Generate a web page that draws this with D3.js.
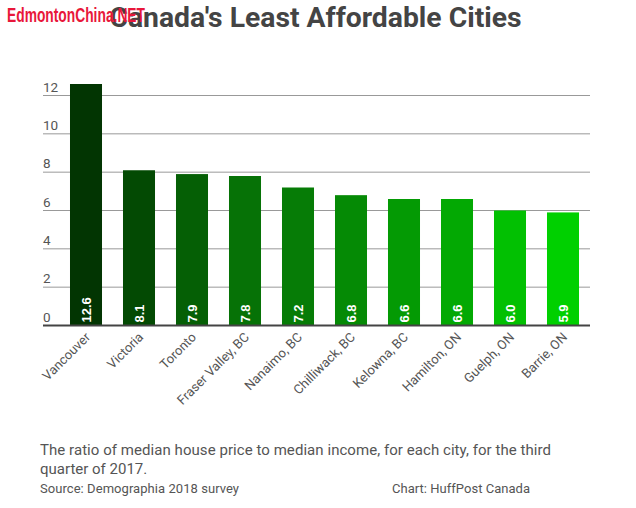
<!DOCTYPE html>
<html>
<head>
<meta charset="utf-8">
<script src="https://cdnjs.cloudflare.com/ajax/libs/d3/7.8.5/d3.min.js"></script>
<style>
  html, body { margin: 0; padding: 0; background: #fff; }
  svg { display: block; font-family: Roboto, sans-serif; }
</style>
</head>
<body>
<div id="chart"></div>
<script>
const cities = ["Vancouver", "Victoria", "Toronto", "Fraser Valley, BC", "Nanaimo, BC",
  "Chilliwack, BC", "Kelowna, BC", "Hamilton, ON", "Guelph, ON", "Barrie, ON"];
const ratios = [12.6, 8.1, 7.9, 7.8, 7.2, 6.8, 6.6, 6.6, 6.0, 5.9];
const yTicks = [0, 2, 4, 6, 8, 10, 12];
const barColors = ["#023502", "#034a03", "#055f05", "#067206", "#067c06",
  "#058a05", "#049a04", "#03a903", "#02c002", "#00d000"];

const width = 636, height = 508;
const svg = d3.select("#chart").append("svg")
  .attr("width", width)
  .attr("height", height);

const x = d3.scaleBand()
  .domain(cities)
  .range([59.5, 589.5])
  .paddingInner(0.396)
  .paddingOuter(0.198);

const y = d3.scaleLinear()
  .domain([0, 12])
  .range([325.5, 95.5]);

// Gridlines and tick labels sit above the line, flush left
const grid = svg.append("g");
grid.selectAll("line")
  .data(yTicks.filter(d => d > 0))
  .enter().append("line")
  .attr("x1", 43)
  .attr("x2", 590)
  .attr("y1", d => y(d))
  .attr("y2", d => y(d))
  .attr("stroke", "#999")
  .attr("stroke-width", 1);

grid.selectAll("text")
  .data(yTicks)
  .enter().append("text")
  .attr("x", 43)
  .attr("y", d => y(d) - 4)
  .attr("fill", "#555")
  .style("font-size", "13.5px")
  .text(d => d);

svg.selectAll(".bar")
  .data(cities)
  .enter().append("rect")
  .attr("class", "bar")
  .attr("x", d => x(d))
  .attr("y", (d, i) => y(ratios[i]))
  .attr("width", x.bandwidth())
  .attr("height", (d, i) => y(0) - y(ratios[i]))
  .attr("fill", (d, i) => barColors[i]);

// Baseline
svg.append("line")
  .attr("x1", 43)
  .attr("x2", 590)
  .attr("y1", y(0))
  .attr("y2", y(0))
  .attr("stroke", "#444")
  .attr("stroke-width", 2);

// Values rotated inside the foot of each bar
svg.selectAll(".value")
  .data(cities)
  .enter().append("text")
  .attr("class", "value")
  .attr("transform", d => `translate(${x(d) + x.bandwidth() / 2 + 5},${y(0) - 3}) rotate(-90)`)
  .attr("fill", "#fff")
  .style("font-size", "13px")
  .style("font-family", "'Liberation Sans', sans-serif")
  .style("font-weight", "bold")
  .text((d, i) => ratios[i].toFixed(1));

// Slanted city labels
svg.selectAll(".city")
  .data(cities)
  .enter().append("text")
  .attr("class", "city")
  .attr("transform", d => `translate(${x(d) + x.bandwidth() / 2 + 5},${y(0) + 12.5}) rotate(-45)`)
  .attr("text-anchor", "end")
  .attr("fill", "#555")
  .style("font-size", "13px")
  .text(d => d);

svg.append("text")
  .attr("x", 315.5)
  .attr("y", 27)
  .attr("text-anchor", "middle")
  .attr("fill", "#444")
  .style("font-size", "28.3px")
  .style("font-weight", "bold")
  .text("Canada's Least Affordable Cities");

// Site watermark, overlapping the title as in the source image
svg.append("text")
  .attr("x", 7)
  .attr("y", 22)
  .attr("fill", "#e8173a")
  .attr("textLength", 138)
  .attr("lengthAdjust", "spacingAndGlyphs")
  .style("font-family", "'Liberation Sans Narrow', 'Liberation Sans', sans-serif")
  .style("font-size", "21px")
  .style("font-weight", "bold")
  .text("EdmontonChina.NET");

const note = svg.append("g")
  .attr("fill", "#555");

note.append("text").attr("x", 40).attr("y", 455)
  .attr("textLength", 511)
  .style("font-size", "15px")
  .text("The ratio of median house price to median income, for each city, for the third");
note.append("text").attr("x", 40).attr("y", 474)
  .style("font-size", "15px")
  .text("quarter of 2017.");
note.append("text").attr("x", 40).attr("y", 493)
  .attr("textLength", 199)
  .style("font-size", "13px")
  .text("Source: Demographia 2018 survey");
note.append("text").attr("x", 392).attr("y", 493)
  .attr("textLength", 138)
  .style("font-size", "13px")
  .text("Chart: HuffPost Canada");
</script>
</body>
</html>
